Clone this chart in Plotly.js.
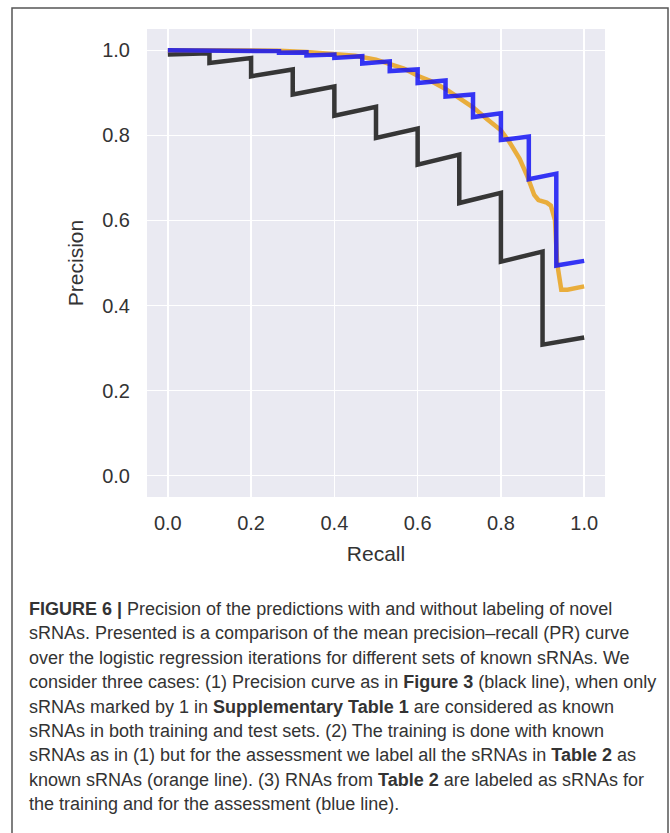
<!DOCTYPE html>
<html>
<head>
<meta charset="utf-8">
<script src="https://cdn.plot.ly/plotly-3.0.1.min.js"></script>
<style>
html,body{margin:0;padding:0;background:#fff;}
#chart{width:670px;height:833px;}
</style>
</head>
<body>
<div id="chart"></div>
<script>
// ---- data ----
const blackRecall = [0.0, 0.1, 0.1, 0.2, 0.2, 0.3, 0.3, 0.4, 0.4, 0.5, 0.5, 0.6, 0.6, 0.7, 0.7, 0.8, 0.8, 0.9, 0.9, 1.0];
const blackPrecision = [0.990, 0.993, 0.970, 0.982, 0.939, 0.955, 0.896, 0.915, 0.846, 0.867, 0.794, 0.816, 0.731, 0.755, 0.641, 0.665, 0.503, 0.527, 0.308, 0.325];

const orangeRecall = [0.0, 0.1, 0.2, 0.267, 0.333, 0.4, 0.45, 0.5, 0.533, 0.567, 0.6, 0.633, 0.667, 0.7, 0.733, 0.767, 0.8, 0.82, 0.845, 0.863, 0.88, 0.89, 0.91, 0.92, 0.93, 0.935, 0.945, 0.96, 1.0];
const orangePrecision = [1.000, 1.000, 1.000, 0.999, 0.996, 0.992, 0.987, 0.978, 0.968, 0.957, 0.940, 0.927, 0.909, 0.889, 0.866, 0.838, 0.812, 0.785, 0.745, 0.705, 0.660, 0.648, 0.642, 0.635, 0.600, 0.500, 0.437, 0.437, 0.445];

const blueRecall = [0.0, 0.067, 0.133, 0.2, 0.267, 0.267, 0.333, 0.333, 0.4, 0.4, 0.467, 0.467, 0.533, 0.533, 0.6, 0.6, 0.667, 0.667, 0.733, 0.733, 0.8, 0.8, 0.867, 0.867, 0.933, 0.933, 1.0];
const bluePrecision = [1.000, 1.000, 1.000, 0.999, 0.998, 0.994, 0.995, 0.988, 0.990, 0.982, 0.986, 0.969, 0.974, 0.951, 0.955, 0.923, 0.929, 0.891, 0.896, 0.843, 0.852, 0.789, 0.797, 0.697, 0.710, 0.494, 0.505];

const tickValues = [0.0, 0.2, 0.4, 0.6, 0.8, 1.0];
const tickLabels = ["0.0", "0.2", "0.4", "0.6", "0.8", "1.0"];
const xTitle = "Recall";
const yTitle = "Precision";

const captionLines = [
  "<b>FIGURE 6 |</b> Precision of the predictions with and without labeling of novel",
  "sRNAs. Presented is a comparison of the mean precision–recall (PR) curve",
  "over the logistic regression iterations for different sets of known sRNAs. We",
  "consider three cases: (1) Precision curve as in <b>Figure 3</b> (black line), when only",
  "sRNAs marked by 1 in <b>Supplementary Table 1</b> are considered as known",
  "sRNAs in both training and test sets. (2) The training is done with known",
  "sRNAs as in (1) but for the assessment we label all the sRNAs in <b>Table 2</b> as",
  "known sRNAs (orange line). (3) RNAs from <b>Table 2</b> are labeled as sRNAs for",
  "the training and for the assessment (blue line)."
];

// ---- layout geometry (pixels) ----
const W = 670, H = 833;
const mL = 147, mR = 65, mT = 29, mB = 336;
const pw = W - mL - mR, ph = H - mT - mB;
const px2x = p => (p - mL) / pw;
const py2y = p => (H - mB - p) / ph;

const traces = [
  {x: blackRecall, y: blackPrecision, mode: 'lines', line: {color: 'rgba(38,38,38,0.92)', width: 4.5}, hoverinfo: 'skip'},
  {x: orangeRecall, y: orangePrecision, mode: 'lines', line: {color: 'rgba(233,166,40,0.9)', width: 4.5}, hoverinfo: 'skip'},
  {x: blueRecall, y: bluePrecision, mode: 'lines', line: {color: 'rgba(20,20,245,0.85)', width: 4.5}, hoverinfo: 'skip'}
];

const capFont = {family: 'Liberation Sans, Arial, sans-serif', size: 18, color: '#333'};
const annotations = captionLines.map((t, i) => ({
  text: t, xref: 'paper', yref: 'paper', x: px2x(27), y: py2y(609 + i * 24.4),
  xanchor: 'left', yanchor: 'middle', showarrow: false, align: 'left', font: capFont
}));

const axisCommon = {
  range: [-0.05, 1.05], tickvals: tickValues, ticktext: tickLabels,
  showgrid: true, gridcolor: '#ffffff', gridwidth: 1.5, zeroline: false, showline: false,
  ticks: '', ticklabelstandoff: 16,
  tickfont: {family: 'Liberation Sans, Arial, sans-serif', size: 20, color: '#333'}
};

const layout = {
  width: W, height: H,
  margin: {l: mL, r: mR, t: mT, b: mB, pad: 0},
  paper_bgcolor: '#ffffff', plot_bgcolor: '#EAEAF2',
  showlegend: false,
  xaxis: Object.assign({}, axisCommon, {ticklabelstandoff: 12, title: {text: xTitle, standoff: 13, font: {family: 'Liberation Sans, Arial, sans-serif', size: 21, color: '#333'}}}),
  yaxis: Object.assign({}, axisCommon, {title: {text: yTitle, standoff: 12, font: {family: 'Liberation Sans, Arial, sans-serif', size: 21, color: '#333'}}}),
  annotations: annotations,
  shapes: [{
    type: 'rect', xref: 'paper', yref: 'paper',
    x0: px2x(12), x1: px2x(668), y0: py2y(845), y1: py2y(8),
    line: {color: '#555', width: 1.5}, fillcolor: 'rgba(0,0,0,0)', layer: 'above'
  }]
};

Plotly.newPlot('chart', traces, layout, {displayModeBar: false, staticPlot: true});
</script>
</body>
</html>
